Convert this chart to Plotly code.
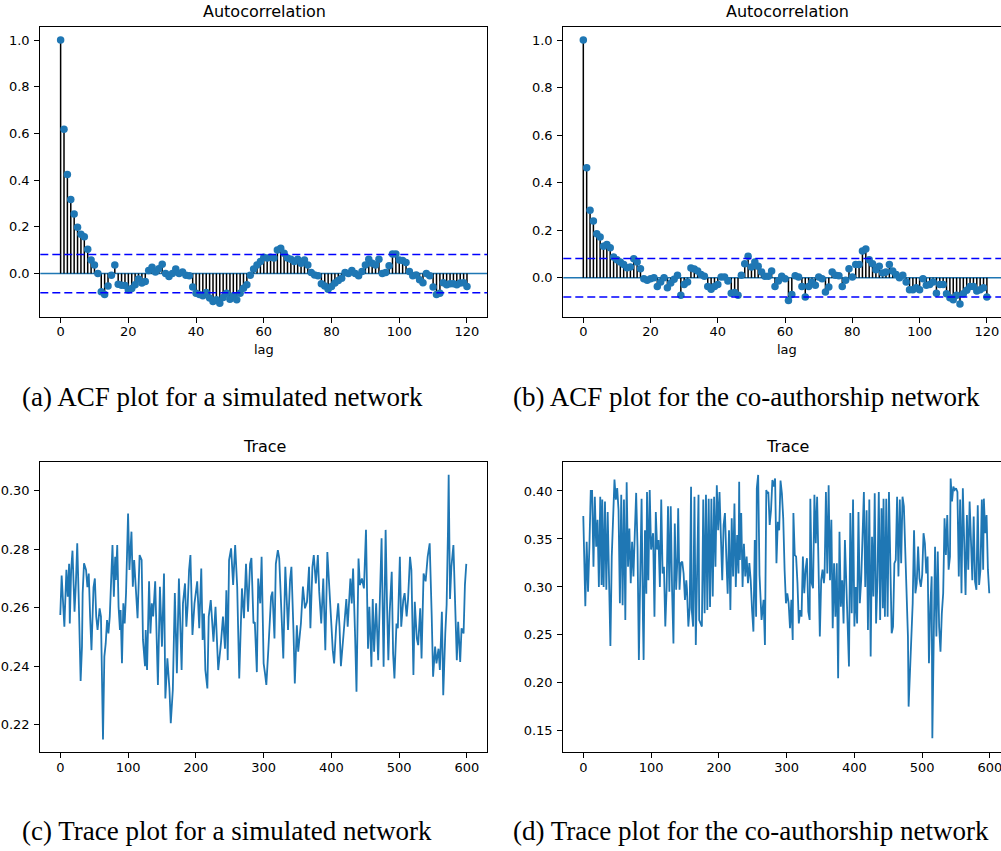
import plotly.graph_objects as go

W, H = 1001, 851

# ---------------- data ----------------
acf_sim = [
    1.0, 0.618, 0.424, 0.317, 0.255, 0.198, 0.168, 0.158, 0.104, 0.058,
    0.037, 0.0, -0.078, -0.09, -0.053, -0.007, 0.037, -0.046, -0.05, -0.051,
    -0.07, -0.064, -0.048, -0.023, -0.041, -0.034, 0.013, 0.027, 0.007, 0.021,
    0.04, 0.0, -0.013, 0.0, 0.019, 0.0, 0.007, -0.007, -0.01, -0.058,
    -0.084, -0.09, -0.095, -0.081, -0.105, -0.12, -0.112, -0.127, -0.103, -0.084,
    -0.11, -0.095, -0.112, -0.084, -0.063, -0.048, -0.007, 0.019, 0.037, 0.051,
    0.07, 0.066, 0.07, 0.066, 0.101, 0.108, 0.087, 0.066, 0.061, 0.051,
    0.061, 0.044, 0.058, 0.037, 0.004, -0.006, -0.01, -0.044, -0.053, -0.067,
    -0.056, -0.041, -0.03, -0.02, 0.004, 0.0, 0.013, 0.0, -0.01, 0.009,
    0.037, 0.061, 0.044, 0.037, 0.061, 0.0, 0.004, 0.033, 0.084, 0.084,
    0.058, 0.056, 0.047, 0.009, -0.01, -0.006, -0.027, -0.039, 0.0, -0.01,
    -0.058, -0.09, -0.084, -0.039, -0.048, -0.044, -0.044, -0.048, -0.041, -0.039,
    -0.056,
]
acf_coauth = [
    1.0, 0.463, 0.284, 0.239, 0.185, 0.171, 0.132, 0.14, 0.126, 0.087,
    0.076, 0.066, 0.056, 0.042, 0.045, 0.08, 0.066, 0.038, -0.004, -0.011,
    -0.004, 0.0, -0.037, -0.018, 0.0, -0.042, -0.022, -0.006, 0.011, -0.074,
    -0.028, -0.018, 0.041, 0.037, 0.028, 0.014, 0.006, -0.037, -0.048, -0.037,
    -0.028, 0.003, 0.003, -0.014, -0.065, -0.062, -0.074, 0.01, 0.059, 0.09,
    0.045, 0.066, 0.048, 0.024, 0.006, 0.006, 0.028, -0.037, -0.014, 0.006,
    -0.004, -0.096, -0.07, 0.008, 0.003, -0.037, -0.081, -0.037, -0.018, -0.032,
    0.003, -0.004, -0.06, -0.039, 0.024, 0.01, 0.008, -0.037, -0.011, 0.038,
    0.003, 0.056, 0.056, 0.112, 0.121, 0.076, 0.059, 0.034, 0.048, 0.02,
    0.024, 0.056, 0.028, 0.014, 0.0, 0.01, -0.018, -0.051, -0.051, -0.042,
    -0.051, -0.004, -0.032, -0.028, -0.018, -0.065, -0.028, -0.028, -0.067, -0.084,
    -0.093, -0.074, -0.11, -0.067, -0.053, -0.037, -0.037, -0.056, -0.051, -0.042,
    -0.081,
]
conf_sim = 0.082
conf_coauth = 0.081

trace_sim_samples = [
    (0, 0.2575), (2, 0.271), (6, 0.2535), (9, 0.273), (11, 0.2638), (13, 0.275), (14, 0.2546), (16, 0.2729), (18, 0.2795), (21, 0.2586),
    (23, 0.2683), (25, 0.282), (27, 0.265), (28, 0.250), (30, 0.235), (32, 0.2467), (33, 0.265), (35, 0.2752), (38, 0.2729), (40, 0.267),
    (42, 0.2717), (44, 0.257), (46, 0.2455), (49, 0.267), (51, 0.27), (53, 0.257), (55, 0.2524), (58, 0.2598), (60, 0.257), (63, 0.215),
    (65, 0.2433), (67, 0.2478), (69, 0.2558), (71, 0.2512), (73, 0.257), (77, 0.2814), (79, 0.2638), (81, 0.2774), (82, 0.2695), (84, 0.2814),
    (86, 0.2603), (88, 0.2524), (89, 0.2592), (91, 0.241), (93, 0.2615), (95, 0.2546), (97, 0.265), (100, 0.2922), (102, 0.2729), (105, 0.286),
    (107, 0.2672), (109, 0.2763), (111, 0.2683), (114, 0.2564), (117, 0.278), (120, 0.2763), (122, 0.249), (125, 0.240), (126, 0.2524), (128, 0.2387),
    (131, 0.269), (133, 0.2512), (135, 0.2615), (137, 0.257), (140, 0.269), (144, 0.2336), (147, 0.2672), (150, 0.2467), (153, 0.2717), (155, 0.229),
    (158, 0.2427), (161, 0.2324), (163, 0.2205), (166, 0.2319), (169, 0.265), (172, 0.2376), (175, 0.27), (177, 0.2524), (179, 0.2387), (181, 0.2615),
    (184, 0.2683), (186, 0.2535), (188, 0.261), (190, 0.2729), (192, 0.278), (195, 0.2507), (198, 0.2615), (202, 0.269), (205, 0.253), (208, 0.2734),
    (210, 0.249), (212, 0.258), (214, 0.2387), (217, 0.2324), (219, 0.257), (222, 0.2626), (226, 0.2484), (229, 0.2603), (233, 0.2387), (237, 0.2478),
    (240, 0.257), (243, 0.246), (245, 0.266), (247, 0.2421), (249, 0.2763), (252, 0.2803), (255, 0.2678), (258, 0.2814), (261, 0.2672), (264, 0.2358),
    (268, 0.2666), (271, 0.2564), (274, 0.275), (277, 0.2586), (280, 0.275), (282, 0.277), (285, 0.2547), (287, 0.255), (290, 0.238), (292, 0.27),
    (295, 0.2615), (297, 0.2774), (300, 0.241), (302, 0.2376), (304, 0.2336), (307, 0.246), (311, 0.2638), (313, 0.2655), (316, 0.2495), (318, 0.275),
    (321, 0.2797), (323, 0.277), (327, 0.2524), (329, 0.2427), (332, 0.274), (336, 0.2524), (339, 0.2695), (341, 0.274), (344, 0.2524), (346, 0.2341),
    (349, 0.254), (351, 0.245), (355, 0.2546), (358, 0.2672), (361, 0.2598), (364, 0.262), (367, 0.274), (369, 0.253), (372, 0.274), (374, 0.278),
    (377, 0.2683), (380, 0.278), (382, 0.2655), (385, 0.2546), (388, 0.27), (391, 0.2455), (394, 0.279), (397, 0.2638), (400, 0.254), (402, 0.2455),
    (404, 0.241), (407, 0.2535), (410, 0.2615), (412, 0.2535), (414, 0.240), (418, 0.2512), (422, 0.263), (424, 0.2535), (428, 0.27), (430, 0.2615),
    (432, 0.2734), (435, 0.250), (437, 0.2313), (440, 0.2768), (442, 0.2678), (445, 0.27), (448, 0.2666), (451, 0.2866), (454, 0.246), (456, 0.2603),
    (459, 0.2398), (461, 0.263), (463, 0.245), (466, 0.2615), (469, 0.2421), (472, 0.2672), (474, 0.2837), (477, 0.2398), (480, 0.2866), (482, 0.2615),
    (484, 0.2421), (486, 0.2586), (489, 0.2723), (491, 0.2444), (493, 0.2358), (496, 0.2546), (498, 0.253), (501, 0.2774), (503, 0.2535), (506, 0.2626),
    (508, 0.265), (511, 0.257), (513, 0.2626), (516, 0.2774), (518, 0.2729), (521, 0.237), (523, 0.262), (526, 0.2495), (528, 0.2472), (531, 0.2598),
    (533, 0.2427), (536, 0.2717), (539, 0.269), (542, 0.2774), (545, 0.282), (548, 0.257), (550, 0.2364), (553, 0.2467), (555, 0.241), (558, 0.246),
    (560, 0.2387), (563, 0.2586), (565, 0.2301), (568, 0.2512), (570, 0.261), (572, 0.2866), (573, 0.3054), (575, 0.263), (577, 0.274), (580, 0.2814),
    (582, 0.2615), (585, 0.2421), (587, 0.2552), (590, 0.2415), (592, 0.253), (595, 0.2512), (597, 0.2678), (599, 0.275),
]

trace_coauth_samples = [
    (0, 0.374), (1, 0.3264), (3, 0.280), (5, 0.347), (7, 0.295), (9, 0.342), (11, 0.40), (13, 0.40), (15, 0.321), (17, 0.394),
    (19, 0.342), (21, 0.37), (23, 0.300), (25, 0.394), (27, 0.302), (28, 0.391), (30, 0.300), (32, 0.389), (34, 0.297), (36, 0.378),
    (38, 0.311), (40, 0.2385), (42, 0.3316), (44, 0.385), (46, 0.412), (48, 0.391), (50, 0.403), (52, 0.38), (54, 0.283), (56, 0.396),
    (58, 0.281), (60, 0.391), (62, 0.2656), (64, 0.409), (66, 0.321), (68, 0.361), (70, 0.304), (72, 0.347), (74, 0.311), (76, 0.356),
    (78, 0.398), (80, 0.342), (82, 0.224), (84, 0.311), (86, 0.392), (88, 0.2656), (89, 0.224), (91, 0.359), (93, 0.293), (94, 0.399),
    (96, 0.307), (98, 0.401), (100, 0.339), (103, 0.356), (105, 0.269), (107, 0.378), (109, 0.339), (111, 0.349), (113, 0.300), (115, 0.391),
    (117, 0.314), (119, 0.321), (121, 0.2587), (123, 0.300), (125, 0.384), (127, 0.295), (129, 0.384), (131, 0.297), (133, 0.241), (135, 0.366),
    (137, 0.297), (139, 0.3316), (140, 0.382), (142, 0.297), (144, 0.325), (146, 0.3264), (148, 0.314), (150, 0.2865), (152, 0.307), (153, 0.297),
    (155, 0.2587), (157, 0.279), (159, 0.4045), (160, 0.276), (162, 0.2587), (164, 0.394), (166, 0.2396), (168, 0.318), (170, 0.396), (171, 0.2656),
    (173, 0.262), (175, 0.2587), (177, 0.391), (179, 0.2726), (181, 0.396), (183, 0.276), (185, 0.392), (187, 0.279), (189, 0.392), (191, 0.29),
    (193, 0.394), (195, 0.321), (197, 0.406), (199, 0.359), (201, 0.399), (203, 0.349), (205, 0.307), (207, 0.3646), (209, 0.377), (211, 0.3316),
    (213, 0.293), (215, 0.359), (217, 0.276), (219, 0.3715), (221, 0.311), (223, 0.387), (225, 0.300), (227, 0.354), (229, 0.314), (230, 0.4097),
    (231, 0.328), (233, 0.377), (235, 0.300), (237, 0.345), (239, 0.311), (241, 0.3316), (243, 0.304), (245, 0.325), (247, 0.307), (249, 0.276),
    (251, 0.2535), (253, 0.349), (255, 0.269), (256, 0.4028), (258, 0.4167), (260, 0.3125),
    (263, 0.2656), (266, 0.2865), (268, 0.2396), (270, 0.401), (271, 0.3976), (273, 0.399), (275, 0.3646), (277, 0.38), (279, 0.4115), (281, 0.4045),
    (283, 0.413), (285, 0.3246), (287, 0.368), (289, 0.359), (291, 0.4108), (293, 0.3976), (295, 0.3715), (297, 0.318), (299, 0.283), (301, 0.2934),
    (303, 0.283), (305, 0.257), (307, 0.2865), (309, 0.2448), (310, 0.377), (312, 0.3333), (314, 0.3316), (316, 0.304), (318, 0.262), (320, 0.276),
    (322, 0.269), (324, 0.3316), (326, 0.2934), (328, 0.318), (330, 0.33), (332, 0.2743), (334, 0.2656), (335, 0.392), (337, 0.304), (339, 0.2986),
    (341, 0.396), (343, 0.3455), (345, 0.394), (347, 0.3246), (349, 0.2483), (351, 0.307), (353, 0.318), (355, 0.304), (356, 0.3125), (358, 0.399),
    (360, 0.314), (362, 0.406), (364, 0.307), (366, 0.37), (368, 0.257), (370, 0.3246), (372, 0.269), (374, 0.3246), (376, 0.2049), (378, 0.3576),
    (380, 0.2795), (382, 0.307), (384, 0.262), (386, 0.349), (388, 0.297), (390, 0.2708), (392, 0.217), (394, 0.377), (396, 0.2726), (398, 0.391),
    (400, 0.2587), (402, 0.300), (404, 0.262), (406, 0.378), (408, 0.283), (410, 0.307), (412, 0.359), (414, 0.399), (416, 0.300), (418, 0.38),
    (420, 0.2552), (422, 0.391), (424, 0.2274), (426, 0.3524), (428, 0.29), (430, 0.3976), (432, 0.262), (434, 0.307), (436, 0.399), (438, 0.2656),
    (440, 0.382), (442, 0.2778), (443, 0.392), (445, 0.269), (447, 0.392), (449, 0.269), (451, 0.399), (453, 0.300), (455, 0.2517), (457, 0.2587),
    (459, 0.3246), (461, 0.328), (463, 0.394), (465, 0.311), (467, 0.391), (469, 0.3246), (471, 0.394), (473, 0.384), (475, 0.342), (477, 0.2934),
    (479, 0.2483), (480, 0.1753), (482, 0.2135), (484, 0.2344), (486, 0.283), (488, 0.359), (490, 0.2934), (492, 0.304), (494, 0.342), (496, 0.309),
    (498, 0.300), (500, 0.3125), (502, 0.356), (504, 0.3455), (506, 0.314), (508, 0.3316), (510, 0.2205), (512, 0.2795), (514, 0.311), (515, 0.1424),
    (517, 0.2726), (519, 0.342), (521, 0.2483), (523, 0.3368), (525, 0.2587), (527, 0.2326), (529, 0.2726), (531, 0.2934), (533, 0.3715), (535, 0.3333),
    (537, 0.375), (539, 0.318), (541, 0.3316), (542, 0.413), (544, 0.389), (546, 0.4045), (548, 0.401), (550, 0.4028), (552, 0.399), (554, 0.311),
    (556, 0.391), (558, 0.2934), (560, 0.4028), (562, 0.3385), (564, 0.2917), (566, 0.375), (568, 0.318), (570, 0.389), (572, 0.3385), (574, 0.307),
    (576, 0.3733), (578, 0.3056), (580, 0.297), (582, 0.385), (584, 0.302), (586, 0.318), (588, 0.391), (590, 0.318), (591, 0.392), (593, 0.356),
    (595, 0.375), (597, 0.318), (599, 0.2934),
]

acf_xticks = [0, 20, 40, 60, 80, 100, 120]
acf_yticks = [0.0, 0.2, 0.4, 0.6, 0.8, 1.0]
trace_xticks = [0, 100, 200, 300, 400, 500, 600]
trace_sim_yticks = [0.22, 0.24, 0.26, 0.28, 0.30]
trace_coauth_yticks = [0.15, 0.20, 0.25, 0.30, 0.35, 0.40]

panel_titles = ["Autocorrelation", "Autocorrelation", "Trace", "Trace"]
captions = [
    "(a) ACF plot for a simulated network",
    "(b) ACF plot for the co-authorship network",
    "(c) Trace plot for a simulated network",
    "(d) Trace plot for the co-authorship network",
]
xlabel_acf = "lag"

# ---------------- helpers ----------------
C0 = "#1f77b4"


def px_x(p):
    return p / W


def px_y(p):
    return 1 - p / H


fig = go.Figure()


def add_acf(values, n):
    xa = "x" if n == 1 else f"x{n}"
    ya = "y" if n == 1 else f"y{n}"
    lags = list(range(len(values)))
    sx, sy = [], []
    for l, v in zip(lags, values):
        sx += [l, l, None]
        sy += [0, v, None]
    fig.add_trace(go.Scatter(x=sx, y=sy, mode="lines",
                             line=dict(color="black", width=1.5),
                             xaxis=xa, yaxis=ya, hoverinfo="skip",
                             showlegend=False))
    fig.add_trace(go.Scatter(x=lags, y=values, mode="markers",
                             marker=dict(color=C0, size=7.5, line=dict(width=0)),
                             xaxis=xa, yaxis=ya, showlegend=False))


def add_trace_line(samples, n):
    xa = f"x{n}"
    ya = f"y{n}"
    it = [s[0] for s in samples]
    val = [s[1] for s in samples]
    fig.add_trace(go.Scatter(x=it, y=val, mode="lines",
                             line=dict(color=C0, width=1.8),
                             xaxis=xa, yaxis=ya, showlegend=False))


add_acf(acf_sim, 1)
add_acf(acf_coauth, 2)
add_trace_line(trace_sim_samples, 3)
add_trace_line(trace_coauth_samples, 4)

# reference lines
shapes = []
for n, conf in [(1, conf_sim), (2, conf_coauth)]:
    xd = "x domain" if n == 1 else f"x{n} domain"
    yr = "y" if n == 1 else f"y{n}"
    shapes.append(dict(type="line", xref=xd, yref=yr, x0=0, x1=1, y0=0, y1=0,
                       line=dict(color=C0, width=1.5), layer="below"))
    for c in (conf, -conf):
        shapes.append(dict(type="line", xref=xd, yref=yr, x0=0, x1=1, y0=c, y1=c,
                           line=dict(color="#0000ff", width=1.5, dash="8px,4px"),
                           layer="above"))

tickfont = dict(family="DejaVu Sans", size=13, color="black")


def axis_common(**kw):
    d = dict(showline=True, linecolor="black", linewidth=1.1, ticks="outside",
             ticklen=5, tickwidth=1, tickcolor="black", showgrid=False,
             zeroline=False, tickfont=tickfont, fixedrange=True,
             ticklabeloverflow="allow", automargin=False)
    d.update(kw)
    return d


left_x = [px_x(40.3), px_x(487.3)]
right_x = [px_x(563.3), 1.0]
top_y = [px_y(316.5), px_y(26.7)]
bot_y = [px_y(752), px_y(462)]

layout = dict(
    width=W, height=H, margin=dict(l=0, r=0, t=0, b=0, autoexpand=False),
    paper_bgcolor="white", plot_bgcolor="white", showlegend=False,
    xaxis=axis_common(domain=left_x, range=[-6, 126], tickvals=acf_xticks,
                      mirror=True, anchor="y", ticklabelstandoff=-2),
    yaxis=axis_common(domain=top_y, range=[-0.184, 1.057], tickvals=acf_yticks,
                      tickformat=".1f", mirror=True, anchor="x", ticklabelstandoff=2),
    xaxis2=axis_common(domain=right_x, range=[-5.95, 124.2], tickvals=acf_xticks,
                       mirror=True, anchor="y2", ticklabelstandoff=-2),
    yaxis2=axis_common(domain=top_y, range=[-0.163, 1.056], tickvals=acf_yticks,
                       tickformat=".1f", mirror=False, anchor="x2", ticklabelstandoff=2),
    xaxis3=axis_common(domain=left_x, range=[-29.5, 630], tickvals=trace_xticks,
                       mirror=True, anchor="y3", ticklabelstandoff=-2),
    yaxis3=axis_common(domain=bot_y, range=[0.2107, 0.3098], tickvals=trace_sim_yticks,
                       tickformat=".2f", mirror=True, anchor="x3", ticklabelstandoff=2),
    xaxis4=axis_common(domain=right_x, range=[-29.5, 616.3], tickvals=trace_xticks,
                       mirror=True, anchor="y4", ticklabelstandoff=-2),
    yaxis4=axis_common(domain=bot_y, range=[0.128, 0.4302], tickvals=trace_coauth_yticks,
                       tickformat=".2f", mirror=False, anchor="x4", ticklabelstandoff=2),
    shapes=shapes,
)

annotations = []
title_pos = [(264, 26.7), (787, 26.7), (264, 462), (787, 462)]
for t, (cx, ty) in zip(panel_titles, title_pos):
    annotations.append(dict(text=t, xref="paper", yref="paper", x=px_x(cx), y=px_y(ty),
                            xanchor="center", yanchor="bottom", yshift=4, showarrow=False,
                            font=dict(family="DejaVu Sans", size=16, color="black")))
for cx in (264, 787):
    annotations.append(dict(text=xlabel_acf, xref="paper", yref="paper", x=px_x(cx),
                            y=px_y(350), xanchor="center", yanchor="middle", showarrow=False,
                            font=dict(family="DejaVu Sans", size=13, color="black")))
cap_pos = [(20, 397), (511, 397), (20, 831), (511, 831)]
for c, (lx, cy) in zip(captions, cap_pos):
    annotations.append(dict(text=c, xref="paper", yref="paper", x=px_x(lx), y=px_y(cy),
                            xanchor="left", yanchor="middle", showarrow=False,
                            font=dict(family="Liberation Serif", size=27, color="black")))
layout["annotations"] = annotations

fig.update_layout(**layout)
fig.write_html("out.html",
               config={"displayModeBar": False},
               post_script="document.body.style.margin='0';document.body.style.overflow='hidden';")
